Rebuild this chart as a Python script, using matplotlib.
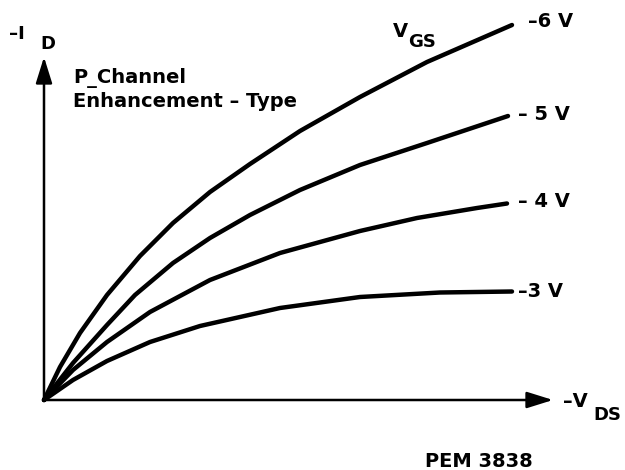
"""Output characteristics of a P-channel enhancement-type MOSFET (sketch)."""

import matplotlib.pyplot as plt

# Values, arbitrary units (no scale is printed).
# -V_DS on x, -I_D on y.
VDS_6 = [0, 1.6, 3.6, 6.3, 9.6, 12.9, 16.6, 20.6, 25.6, 31.6, 38.3, 46.8]
ID_6 = [0, 3.3, 6.7, 10.5, 14.4, 17.7, 20.8, 23.6, 26.9, 30.3, 33.8, 37.5]

VDS_5 = [0, 2.9, 6.3, 9.1, 12.9, 16.6, 20.6, 25.6, 31.6, 38.3, 46.4]
ID_5 = [0, 3.7, 7.5, 10.5, 13.7, 16.2, 18.5, 21.0, 23.5, 25.7, 28.4]

VDS_4 = [0, 2.9, 6.3, 10.6, 16.6, 23.6, 31.6, 37.3, 43.3, 46.3]
ID_4 = [0, 3.0, 5.8, 8.8, 12.0, 14.7, 16.9, 18.2, 19.2, 19.65]

VDS_3 = [0, 2.9, 6.3, 10.6, 15.6, 23.6, 31.6, 39.6, 46.8]
ID_3 = [0, 2.0, 3.9, 5.8, 7.4, 9.2, 10.3, 10.75, 10.85]

CURVES = [(VDS_6, ID_6), (VDS_5, ID_5), (VDS_4, ID_4), (VDS_3, ID_3)]
CURVE_LABELS = ["–6 V", "– 5 V", "– 4 V", "–3 V"]

FONT = dict(family="DejaVu Sans", fontweight="bold", color="black")


def px(x, y):
    """Pixel position in the 625x470 picture -> data coords."""
    return (x - 44) / 10.0, (400 - y) / 10.0


fig = plt.figure(figsize=(6.25, 4.7), dpi=100)
ax = fig.add_axes([0, 0, 1, 1])
ax.set_xlim(-4.4, 58.1)
ax.set_ylim(-7.0, 40.0)
ax.axis("off")

# Axes with arrow heads
arrow = dict(arrowstyle="-|>,head_length=1.6,head_width=0.5", lw=1.8,
             color="black", shrinkA=0, shrinkB=0, mutation_scale=10)
ax.annotate("", xy=px(553, 400), xytext=px(44, 400), arrowprops=arrow)
ax.annotate("", xy=px(44, 57), xytext=px(44, 400), arrowprops=arrow)

for (vds, i_d) in CURVES:
    ax.plot(vds, i_d, color="black", lw=3.2, solid_capstyle="round",
            solid_joinstyle="round")

# curve labels, placed just right of each curve end
label_pos = [(528, 27), (518, 120), (518, 207), (518, 297)]
for lab, (x, y) in zip(CURVE_LABELS, label_pos):
    ax.text(*px(x, y), lab, fontsize=14, ha="left", va="baseline", **FONT)

ax.text(*px(393, 37), "V", fontsize=14, ha="left", va="baseline", **FONT)
ax.text(*px(408, 47), "GS", fontsize=13, ha="left", va="baseline", **FONT)

ax.text(*px(9, 39), "–I", fontsize=13, ha="left", va="baseline", **FONT)
ax.text(*px(40, 49), "D", fontsize=13, ha="left", va="baseline", **FONT)

ax.text(*px(563, 407), "–V", fontsize=14, ha="left", va="baseline", **FONT)
ax.text(*px(593, 420), "DS", fontsize=13, ha="left", va="baseline", **FONT)

ax.text(*px(73, 83), "P_Channel", fontsize=14, ha="left", va="baseline", **FONT)
ax.text(*px(73, 107), "Enhancement – Type", fontsize=14, ha="left",
        va="baseline", **FONT)

ax.text(*px(425, 467), "PEM 3838", fontsize=14, ha="left", va="baseline", **FONT)

fig.savefig("out.png", dpi=100, facecolor="white")
